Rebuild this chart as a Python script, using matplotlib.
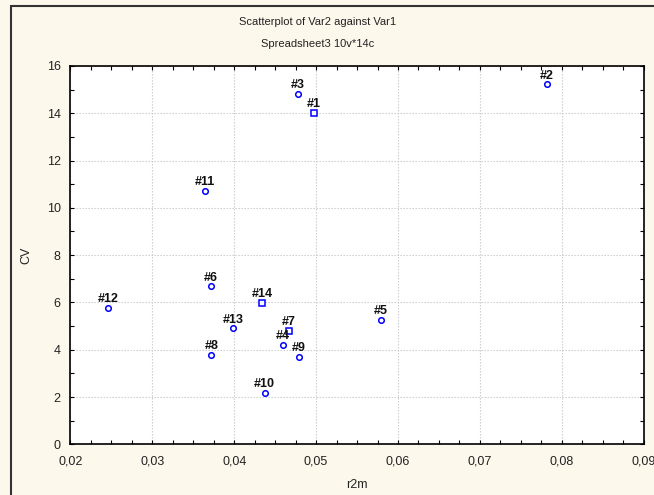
import matplotlib
matplotlib.use("Agg")
import matplotlib.pyplot as plt
from matplotlib.ticker import MultipleLocator, FuncFormatter
from matplotlib.patches import Rectangle

plt.rcParams['font.family'] = ['Liberation Sans', 'DejaVu Sans']

labels = ["#1", "#2", "#3", "#4", "#5", "#6", "#7", "#8", "#9", "#10", "#11", "#12", "#13", "#14"]
r2m = [0.0497, 0.0782, 0.0478, 0.0460, 0.0579, 0.0372, 0.0467, 0.0372, 0.0479, 0.0437, 0.0364, 0.0246, 0.0399, 0.0434]
cv = [14.0, 15.22, 14.81, 4.19, 5.27, 6.68, 4.78, 3.79, 3.70, 2.16, 10.7, 5.77, 4.90, 5.97]
markers = ["s", "o", "o", "o", "o", "o", "s", "o", "o", "o", "o", "o", "o", "s"]

title1 = "Scatterplot of Var2 against Var1"
title2 = "Spreadsheet3 10v*14c"
xlabel = "r2m"
ylabel = "CV"

bg = "#FDF8EC"
fig = plt.figure(figsize=(6.54, 4.95), dpi=100, facecolor=bg)
ax = fig.add_axes([70.4 / 654, 1 - 444.3 / 495, (643.7 - 70.4) / 654, (444.3 - 65.9) / 495])
ax.set_facecolor("white")

for x, y, m, lab in zip(r2m, cv, markers, labels):
    ax.plot([x], [y], linestyle="none", marker=m, markersize=4.0,
            markerfacecolor="white", markeredgecolor="#0000FF", markeredgewidth=1.1, zorder=3)
    ax.annotate(lab, (x, y), xytext=(0, 2.0), textcoords="offset points",
                ha="center", va="bottom", fontsize=9, fontweight="bold", color="#111111", zorder=4)

ax.set_xlim(0.02, 0.09)
ax.set_ylim(0, 16)
ax.xaxis.set_major_locator(MultipleLocator(0.01))
ax.xaxis.set_minor_locator(MultipleLocator(0.0025))
ax.yaxis.set_major_locator(MultipleLocator(2))
ax.yaxis.set_minor_locator(MultipleLocator(1))
ax.xaxis.set_major_formatter(FuncFormatter(lambda v, p: ("%.2f" % v).replace(".", ",")))
ax.yaxis.set_major_formatter(FuncFormatter(lambda v, p: "%d" % round(v)))

ax.tick_params(which="both", direction="in", top=True, right=True, colors="black",
               labelcolor="#222222", labelsize=9)
ax.tick_params(which="major", length=3, width=0.8)
ax.tick_params(which="minor", length=3, width=0.8)
ax.tick_params(axis="x", which="major", pad=8)
ax.tick_params(axis="y", which="major", pad=7)

ax.grid(True, which="major", color="#C8C8C8", linestyle=(0, (1.2, 1.5)), linewidth=0.8)
ax.set_axisbelow(True)
for s in ax.spines.values():
    s.set_color("black")
    s.set_linewidth(1.2)

ax.set_xlabel(xlabel, fontsize=9, color="#222222", labelpad=8)
ax.set_ylabel(ylabel, fontsize=9, color="#222222", labelpad=10)

fig.text(318 / 654, 1 - 22 / 495, title1, ha="center", va="center", fontsize=8, color="#222222")
fig.text(318 / 654, 1 - 44 / 495, title2, ha="center", va="center", fontsize=8, color="#222222")

fig.patches.append(Rectangle((11 / 654, -0.05), 1.1, 1 - 6 / 495 + 0.05, transform=fig.transFigure,
                             fill=False, edgecolor="#333333", linewidth=1.5, clip_on=False))

fig.savefig("out.png", dpi=100, facecolor=bg)
